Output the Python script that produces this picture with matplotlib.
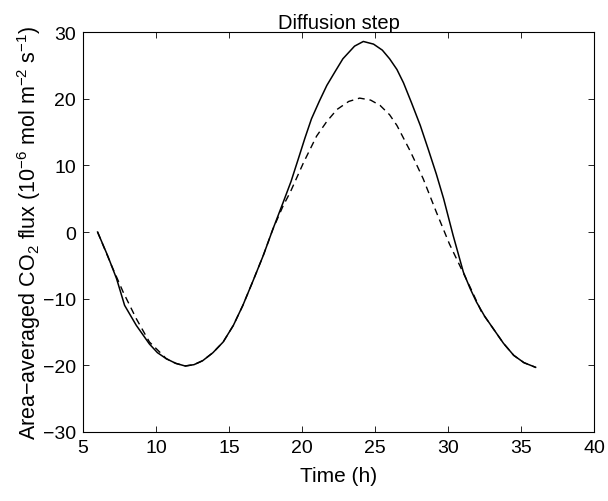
import matplotlib
matplotlib.use("Agg")
import matplotlib.pyplot as plt

plt.rcParams['font.family'] = ['Liberation Sans', 'DejaVu Sans']
plt.rcParams['mathtext.fontset'] = 'custom'
plt.rcParams['mathtext.rm'] = 'Liberation Sans'
plt.rcParams['mathtext.it'] = 'Liberation Sans:italic'

# solid curve (time in h, flux)
time_solid = [6.0, 6.7, 7.3, 7.85, 8.65, 9.55, 10.1, 10.7, 11.35, 12.0, 12.6, 13.2,
              13.9, 14.6, 15.3, 15.95, 16.65, 17.35, 18.0, 18.7, 19.25, 19.75, 20.2,
              20.65, 21.2, 21.7, 22.3, 22.8, 23.6, 24.2, 24.9, 25.5, 26.0, 26.5,
              26.95, 27.5, 28.1, 28.65, 29.2, 29.7, 30.35, 31.05, 31.5, 31.95, 32.5,
              33.1, 33.8, 34.5, 35.2, 36.0]
flux_solid = [0, -3.6, -7.0, -11.0, -14.0, -16.8, -18.1, -19.0, -19.7, -20.1, -19.9, -19.3,
              -18.1, -16.5, -14.0, -11.0, -7.3, -3.5, 0.4, 4.4, 7.6, 11.0, 14.1,
              17.0, 19.7, 22.0, 24.2, 26.0, 27.9, 28.6, 28.2, 27.3, 26.0, 24.4,
              22.4, 19.4, 16.0, 12.4, 8.7, 5.0, -0.5, -6.0, -8.4, -10.5, -12.6,
              -14.5, -16.7, -18.5, -19.6, -20.3]

# dashed curve
time_dashed = [6.0, 6.95, 7.75, 8.65, 9.55, 10.25, 10.7, 11.35, 12.0, 12.6, 13.2,
               13.9, 14.6, 15.3, 15.95, 16.65, 17.35, 18.0, 18.7, 19.2, 20.1, 21.0,
               21.7, 22.4, 23.2, 23.95, 24.7, 25.35, 26.0, 26.5, 27.4,
               28.3, 29.2, 30.1, 30.8, 31.5, 32.3, 33.1, 33.8, 34.5, 35.2, 36.0]
flux_dashed = [0, -5.0, -9.0, -13.0, -16.5, -18.0, -19.0, -19.7, -20.1, -19.9, -19.3,
               -18.1, -16.5, -14.0, -11.0, -7.3, -3.5, 0.4, 3.9, 6.0, 10.4, 14.4,
               16.6, 18.4, 19.6, 20.1, 19.8, 19.0, 17.6, 16.0, 12.2,
               8.0, 3.0, -1.8, -5.0, -8.2, -12.0, -14.5, -16.7, -18.5, -19.6, -20.3]

fig = plt.figure(figsize=(6.08, 5.02), dpi=100)
ax = fig.add_axes([0.1365, 0.1375, 0.8405, 0.7965])

ax.plot(time_solid, flux_solid, color='black', lw=1.1, ls='-')
ax.plot(time_dashed, flux_dashed, color='black', lw=1.0, ls=(0, (5, 3.5)))

ax.set_xlim(5, 40)
ax.set_ylim(-30, 30)
ax.set_xticks(range(5, 41, 5))
ax.set_yticks(range(-30, 31, 10))
ax.tick_params(direction='in', top=True, right=True, labelsize=14, length=4,
               width=0.6, pad=5)
for s in ax.spines.values():
    s.set_linewidth(0.8)

ax.set_title('Diffusion step', fontsize=14.5, pad=3)
ax.set_xlabel('Time (h)', fontsize=15, labelpad=7)
ax.set_ylabel('Area\u2212averaged CO$_2$ flux (10$^{-6}$ mol m$^{-2}$ s$^{-1}$)',
              fontsize=15.5, labelpad=0)

fig.savefig('out.png', dpi=100)
